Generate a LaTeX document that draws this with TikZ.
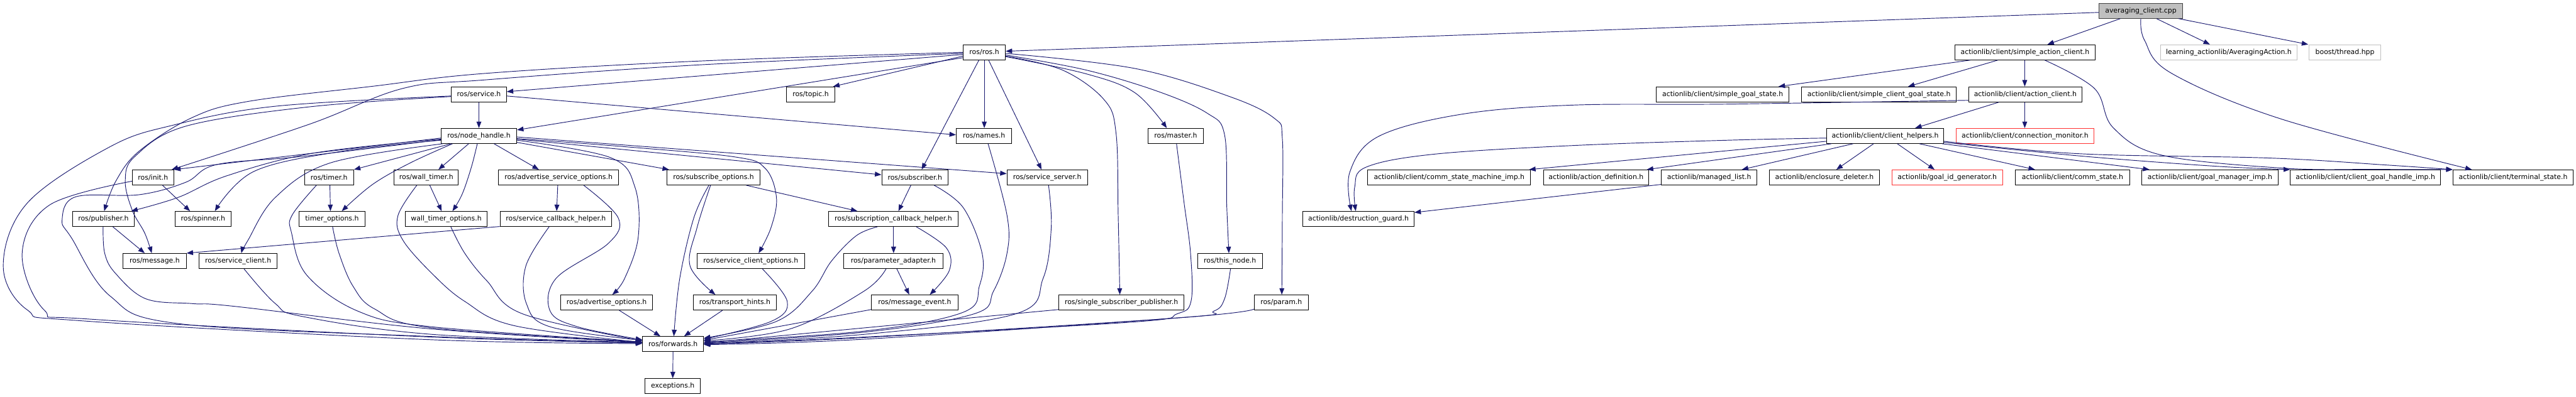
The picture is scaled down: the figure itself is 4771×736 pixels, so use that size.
\documentclass[tikz,border=0pt]{standalone}
\usepackage{fontspec}
\setmainfont{DejaVu Sans}
\usetikzlibrary{arrows.meta}
\definecolor{edgec}{HTML}{191970}
\definecolor{gfill}{HTML}{BFBFBF}
\definecolor{gline}{HTML}{BFBFBF}
\definecolor{rline}{HTML}{FF3030}
\definecolor{dline}{HTML}{404040}
\tikzset{
 box/.style={draw=black, fill=white, line width=1.1pt, rectangle, minimum height=28pt, inner sep=0pt, font=\fontsize{12.7}{15}\selectfont, text=black},
 redbox/.style={box, draw=rline},
 greybox/.style={box, draw=gline},
 topbox/.style={box, fill=gfill, draw=dline},
 e/.style={draw=edgec, line width=1.1pt, -{Triangle[length=12pt,width=9pt]}},
 sm/.style={smooth, tension=0.6},
}
\begin{document}
\begin{tikzpicture}[x=1pt,y=-1pt]
\useasboundingbox (0,0) rectangle (4771,736);
% row 0
\node[topbox, minimum width=154pt] (avg) at (3965,20) {averaging\_client.cpp};
% row 1
\node[box, minimum width=78pt] (ros) at (1823,97) {ros/ros.h};
\node[box, minimum width=259pt] (sac) at (3750.5,97) {actionlib/client/simple\_action\_client.h};
\node[greybox, minimum width=252pt] (learn) at (4128,97) {learning\_actionlib/AveragingAction.h};
\node[greybox, minimum width=132pt] (boost) at (4343,97) {boost/thread.hpp};
% row 2
\node[box, minimum width=102pt] (service) at (887,175) {ros/service.h};
\node[box, minimum width=89pt] (topic) at (1501.5,175) {ros/topic.h};
\node[box, minimum width=245pt] (sgs) at (3190.5,175) {actionlib/client/simple\_goal\_state.h};
\node[box, minimum width=286pt] (scgs) at (3480,175) {actionlib/client/simple\_client\_goal\_state.h};
\node[box, minimum width=210pt] (ac) at (3751,175) {actionlib/client/action\_client.h};
% row 3
\node[box, minimum width=140pt] (nh) at (887,252) {ros/node\_handle.h};
\node[box, minimum width=103pt] (names) at (1822.5,252) {ros/names.h};
\node[box, minimum width=103pt] (master) at (2177.5,252) {ros/master.h};
\node[box, minimum width=217pt] (ch) at (3491.5,252) {actionlib/client/client\_helpers.h};
\node[redbox, minimum width=255pt] (cm) at (3750.5,252) {actionlib/client/connection\_monitor.h};
% row 4
\node[box, minimum width=77pt] (init) at (283.5,329) {ros/init.h};
\node[box, minimum width=91pt] (timer) at (609.5,329) {ros/timer.h};
\node[box, minimum width=119pt] (wtimer) at (789.5,329) {ros/wall\_timer.h};
\node[box, minimum width=223pt] (aso) at (1034.5,329) {ros/advertise\_service\_options.h};
\node[box, minimum width=173pt] (so) at (1321.5,329) {ros/subscribe\_options.h};
\node[box, minimum width=123pt] (sub) at (1694.5,329) {ros/subscriber.h};
\node[box, minimum width=149pt] (ss) at (1939.5,329) {ros/service\_server.h};
\node[box, minimum width=302pt] (csmi) at (2684,329) {actionlib/client/comm\_state\_machine\_imp.h};
\node[box, minimum width=194pt] (ad) at (2956,329) {actionlib/action\_definition.h};
\node[box, minimum width=177pt] (ml) at (3165.5,329) {actionlib/managed\_list.h};
\node[box, minimum width=204pt] (ed) at (3379,329) {actionlib/enclosure\_deleter.h};
\node[redbox, minimum width=205pt] (gig) at (3606.5,329) {actionlib/goal\_id\_generator.h};
\node[box, minimum width=211pt] (cs) at (3838.5,329) {actionlib/client/comm\_state.h};
\node[box, minimum width=252pt] (gmi) at (4093,329) {actionlib/client/goal\_manager\_imp.h};
\node[box, minimum width=278pt] (cghi) at (4381,329) {actionlib/client/client\_goal\_handle\_imp.h};
\node[box, minimum width=223pt] (ts) at (4654.5,329) {actionlib/client/terminal\_state.h};
% row 5
\node[box, minimum width=115pt] (pub) at (191.5,406) {ros/publisher.h};
\node[box, minimum width=104pt] (spin) at (376,406) {ros/spinner.h};
\node[box, minimum width=122pt] (topt) at (615,406) {timer\_options.h};
\node[box, minimum width=151pt] (wtopt) at (826.5,406) {wall\_timer\_options.h};
\node[box, minimum width=207pt] (sch) at (1029.5,406) {ros/service\_callback\_helper.h};
\node[box, minimum width=239pt] (subch) at (1654.5,406) {ros/subscription\_callback\_helper.h};
\node[box, minimum width=206pt] (dg) at (2516,406) {actionlib/destruction\_guard.h};
% row 6
\node[box, minimum width=117pt] (msg) at (286.5,484) {ros/message.h};
\node[box, minimum width=144pt] (sc) at (441,484) {ros/service\_client.h};
\node[box, minimum width=199pt] (sco) at (1390.5,484) {ros/service\_client\_options.h};
\node[box, minimum width=183pt] (pa) at (1654.5,484) {ros/parameter\_adapter.h};
\node[box, minimum width=120pt] (tn) at (2278,484) {ros/this\_node.h};
% row 7
\node[box, minimum width=171pt] (ao) at (1123.5,561) {ros/advertise\_options.h};
\node[box, minimum width=154pt] (th) at (1361,561) {ros/transport\_hints.h};
\node[box, minimum width=160pt] (me) at (1694,561) {ros/message\_event.h};
\node[box, minimum width=232pt] (ssp) at (2077,561) {ros/single\_subscriber\_publisher.h};
\node[box, minimum width=100pt] (param) at (2373,561) {ros/param.h};
% row 8, 9
\node[box, minimum width=113pt] (fwd) at (1246.5,638) {ros/forwards.h};
\node[box, minimum width=102pt] (exc) at (1246,716) {exceptions.h};

% ---- actionlib edges
\draw[e] (avg.west |- 0,23) -- (ros.east |- 0,95);
\draw[e] (avg.south -| 3927,0) -- (sac.north -| 3792,0);
\draw[e] (avg.south -| 3994,0) -- (learn.north -| 4093,0);
\draw[e] (avg.south -| 4035,0) -- (boost.north -| 4275,0);
\draw[e] plot[sm] coordinates {(avg.south -| 3965,0) (3972,75) (4022,136) (4226,221) (ts.north -| 4578,0)};
\draw[e] (sac.south -| 3649,0) -- (sgs.north -| 3294,0);
\draw[e] (sac.south -| 3700,0) -- (scgs.north -| 3534,0);
\draw[e] (sac.south -| 3750,0) -- (ac.north -| 3750,0);
\draw[e] plot[sm] coordinates {(sac.south -| 3787,0) (3879,164) (3914,237) (4005,288) (4232,312) (4400,314) (ts.north west)};
\draw[e] (ac.south -| 3702,0) -- (ch.north -| 3547,0);
\draw[e] (ac.south -| 3750,0) -- (cm.north -| 3750,0);
\draw[e] plot[sm] coordinates {(ac.west |- 0,186) (3200,193) (2910,195) (2706,212) (2553,253) (2500,319) (dg.north -| 2503,0)};
\draw[e] plot[sm] coordinates {(ch.west |- 0,256) (3200,260) (2910,270) (2655,286) (2530,310) (2509,347) (dg.north -| 2511,0)};
\draw[e] (ch.west |- 0,262) -- (csmi.north -| 2832,0);
\draw[e] (ch.south -| 3392,0) -- (ad.north -| 3050,0);
\draw[e] (ch.south -| 3432,0) -- (ml.north -| 3226,0);
\draw[e] (ch.south -| 3470,0) -- (ed.north -| 3401,0);
\draw[e] (ch.south -| 3514,0) -- (gig.north -| 3583,0);
\draw[e] (ch.south -| 3555,0) -- (cs.north -| 3769,0);
\draw[e] (ch.south -| 3597,0) -- (gmi.north -| 3981,0);
\draw[e] plot[sm] coordinates {(ch.east |- 0,264) (3850,289) (4100,308) (cghi.north west)};
\draw[e] plot[sm] coordinates {(ch.east |- 0,262) (3850,285) (4202,293) (4420,306) (ts.north west)};
\draw[e] (ml.west |- 0,342) -- (dg.east |- 0,394);

% ---- ros.h edges
\draw[e] (ros.west |- 0,101) -- (service.east |- 0,170);
\draw[e] (ros.west |- 0,104) -- (topic.north -| 1543,0);
\draw[e] (ros.west |- 0,107) -- (nh.east |- 0,241);
\draw[e] plot[sm] coordinates {(ros.west |- 0,99) (1300,120) (900,148) (746,164) (574,230) (init.north -| 318,0)};
\draw[e] plot[sm] coordinates {(ros.west |- 0,97) (1300,113) (900,136) (690,160) (460,188) (356,218) (258,280) (215,335) (pub.north -| 193,0)};
\draw[e] (ros.south -| 1823,0) -- (names.north -| 1823,0);
\draw[e] (ros.south -| 1813,0) -- (sub.north -| 1707,0);
\draw[e] (ros.south -| 1831,0) -- (ss.north -| 1929,0);
\draw[e] plot[sm] coordinates {(ros.east |- 0,104) (1968,130) (2045,185) (2067,247) (2071,400) (ssp.north -| 2074,0)};
\draw[e] plot[sm] coordinates {(ros.east |- 0,105) (2012,137) (2102,172) (master.north -| 2161,0)};
\draw[e] plot[sm] coordinates {(ros.east |- 0,102) (2012,130) (2146,170) (2236,210) (2268,250) (2272,380) (tn.north -| 2276,0)};
\draw[e] plot[sm] coordinates {(ros.east |- 0,99) (2102,127) (2280,180) (2361,220) (2375,257) (2375,400) (param.north -| 2374,0)};

% ---- service.h
\draw[e] (service.south) -- (nh.north -| 887,0);
\draw[e] (service.east |- 0,178) -- (names.west |- 0,250);
\draw[e] plot[sm] coordinates {(service.west |- 0,179) (574,198) (344,234) (250,290) (232,335) (245,390) (268,432) (msg.north -| 281,0)};
\draw[e] plot[sm] coordinates {(service.west |- 0,178) (510,197) (321,232) (204,272) (51,376) (6,493) (51,575) (153,595) (800,630) (fwd.west |- 0,637)};

% ---- init
\draw[e] (init.south -| 301,0) -- (spin.north -| 352,0);
\draw[e] plot[sm] coordinates {(init.west |- 0,336) (92,380) (41,470) (82,575) (170,592) (800,625) (fwd.west |- 0,636)};

% ---- node_handle
\draw[e] (nh.west |- 0,256) -- (init.north east);
\draw[e] plot[sm] coordinates {(nh.west |- 0,258) (580,284) (420,326) (330,366) (pub.north -| 243,0)};
\draw[e] plot[sm] coordinates {(nh.west |- 0,260) (630,281) (470,318) (spin.north -| 398,0)};
\draw[e] plot[sm] coordinates {(nh.south -| 820,0) (612,302) (510,366) (459,446) (sc.north -| 447,0)};
\draw[e] plot[sm] coordinates {(nh.west |- 0,259) (560,290) (402,305) (344,338) (258,361) (140,365) (115,408) (133,442) (204,549) (330,600) (800,624) (fwd.west |- 0,636)};
\draw[e] (nh.south -| 835,0) -- (timer.north east);
\draw[e] plot[sm] coordinates {(nh.south -| 838,0) (760,302) (690,342) (topt.north -| 633,0)};
\draw[e] (nh.south -| 868,0) -- (wtimer.north -| 812,0);
\draw[e] plot[sm] coordinates {(nh.south -| 884,0) (873,310) (856,360) (wtopt.north -| 838,0)};
\draw[e] (nh.south -| 915,0) -- (aso.north -| 998,0);
\draw[e] plot[sm] coordinates {(nh.east |- 0,260) (1130,292) (1176,347) (1182,440) (1157,516) (ao.north -| 1134,0)};
\draw[e] (nh.east |- 0,264) -- (so.north -| 1239,0);
\draw[e] plot[sm] coordinates {(nh.east |- 0,257) (1157,272) (1361,291) (1417,312) (1438,366) (1428,422) (sco.north -| 1405,0)};
\draw[e] (nh.east |- 0,258) -- (sub.west |- 0,324);
\draw[e] (nh.east |- 0,254) -- (ss.west |- 0,322);

% ---- timers
\draw[e] (timer.south -| 611,0) -- (topt.north -| 612,0);
\draw[e] plot[sm] coordinates {(timer.south -| 586,0) (541,399) (540,432) (568,510) (663,577) (800,606) (fwd.west |- 0,634)};
\draw[e] plot[sm] coordinates {(topt.south -| 616,0) (628,470) (654,531) (694,573) (800,608) (fwd.west |- 0,634)};
\draw[e] (wtimer.south -| 796,0) -- (wtopt.north -| 818,0);
\draw[e] plot[sm] coordinates {(wtimer.south -| 772,0) (737,400) (746,445) (800,507) (861,559) (953,604) (fwd.west |- 0,635)};
\draw[e] plot[sm] coordinates {(wtopt.south -| 835,0) (861,470) (902,521) (968,582) (fwd.west |- 0,632)};

% ---- advertise service options etc.
\draw[e] (aso.south -| 1033,0) -- (sch.north -| 1031,0);
\draw[e] plot[sm] coordinates {(aso.south -| 1081,0) (1145,404) (1127,451) (1030,516) (1019,577) (1070,606) (fwd.west |- 0,630)};
\draw[e] (sch.west |- 0,420) -- (msg.north east);
\draw[e] plot[sm] coordinates {(sch.south -| 1017,0) (974,493) (975,563) (1019,606) (fwd.west |- 0,631)};
\draw[e] (ao.south -| 1147,0) -- (fwd.north -| 1223,0);

% ---- subscribe options
\draw[e] plot[sm] coordinates {(so.south -| 1313,0) (1285,404) (1259,516) (fwd.north -| 1248,0)};
\draw[e] plot[sm] coordinates {(so.south -| 1316,0) (1291,422) (1278,493) (th.north -| 1325,0)};
\draw[e] (so.south -| 1382,0) -- (subch.north -| 1588,0);
\draw[e] plot[sm] coordinates {(sco.south -| 1412,0) (1458,559) (1428,596) (fwd.east |- 0,629)};
\draw[e] (th.south -| 1338,0) -- (fwd.north -| 1267,0);

% ---- subscriber
\draw[e] (sub.south -| 1687,0) -- (subch.north -| 1664,0);
\draw[e] plot[sm] coordinates {(sub.south -| 1730,0) (1784,385) (1819,470) (1814,530) (1784,579) (1600,614) (fwd.east |- 0,634)};
\draw[e] (subch.south -| 1655,0) -- (pa.north -| 1655,0);
\draw[e] plot[sm] coordinates {(subch.south -| 1697,0) (1753,460) (1758,502) (me.north -| 1722,0)};
\draw[e] plot[sm] coordinates {(subch.south -| 1625,0) (1586,437) (1540,484) (1504,540) (1438,596) (fwd.east |- 0,627)};
\draw[e] (pa.south -| 1661,0) -- (me.north -| 1684,0);
\draw[e] plot[sm] coordinates {(pa.south -| 1641,0) (1600,540) (1463,610) (fwd.east |- 0,632)};
\draw[e] (me.west |- 0,574) -- (fwd.east |- 0,631);

% ---- others to forwards
\draw[e] plot[sm] coordinates {(names.south -| 1830,0) (1865,399) (1865,470) (1840,540) (1804,582) (1600,616) (fwd.east |- 0,636)};
\draw[e] plot[sm] coordinates {(ss.south -| 1942,0) (1947,422) (1932,516) (1881,582) (1600,620) (fwd.east |- 0,637)};
\draw[e] (ssp.west |- 0,574) -- (fwd.east |- 0,636);
\draw[e] plot[sm] coordinates {(master.south -| 2179,0) (2193,376) (2205,470) (2206,558) (2180,582) (2100,597) (1600,625) (fwd.east |- 0,638)};
\draw[e] plot[sm] coordinates {(tn.south -| 2279,0) (2268,554) (2248,577) (2187,589) (1600,626) (fwd.east |- 0,638)};
\draw[e] plot[sm] coordinates {(param.west |- 0,573) (2200,588) (1600,629) (fwd.east |- 0,639)};
\draw[e] plot[sm] coordinates {(sc.south -| 452,0) (510,563) (561,587) (800,620) (fwd.west |- 0,635)};
\draw[e] (pub.south -| 209,0) -- (msg.north -| 268,0);
\draw[e] plot[sm] coordinates {(pub.south -| 191,0) (194,470) (214,507) (270,554) (357,563) (434,568) (800,610) (fwd.west |- 0,635)};
\draw[e] (fwd.south) -- (exc.north);
\end{tikzpicture}
\end{document}
